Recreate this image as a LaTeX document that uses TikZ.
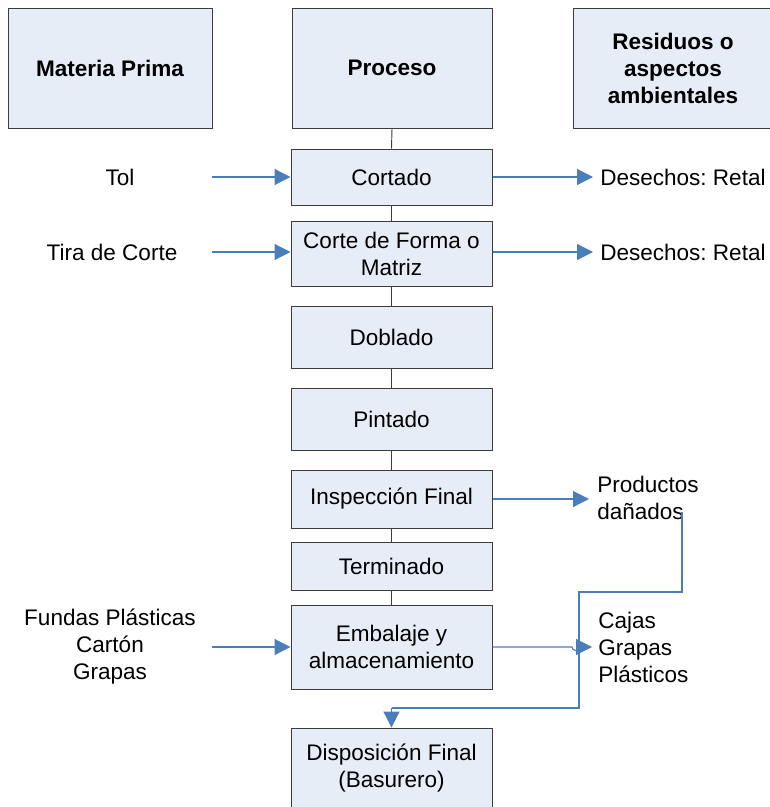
\documentclass[tikz,border=0pt]{standalone}
\usepackage{fontspec}
\setmainfont{Liberation Sans}
\frenchspacing
\usetikzlibrary{arrows.meta}
\definecolor{boxfill}{HTML}{E7EDF7}
\definecolor{boxline}{HTML}{3C3C3C}
\definecolor{flow}{HTML}{4A7EBB}
\tikzset{
  pbox/.style={draw=boxline, line width=0.75pt, fill=boxfill, align=center, inner sep=2pt,
    font=\fontsize{16.9}{20.25}\selectfont},
  hbox/.style={pbox, font=\fontsize{16.9}{20.25}\selectfont\bfseries},
  lbl/.style={align=center, inner sep=0pt, font=\fontsize{16.9}{20.25}\selectfont},
  rlbl/.style={align=left, anchor=west, inner sep=0pt, font=\fontsize{16.9}{20.25}\selectfont},
  link/.style={draw=boxline, line width=0.7pt},
  arr/.style={draw=flow, line width=0.9pt, -{Triangle[length=12pt,width=12pt]}},
  fl/.style={draw=flow, line width=0.9pt}
}
\begin{document}
\begin{tikzpicture}[x=0.75pt,y=-0.75pt]
\useasboundingbox (0,0) rectangle (770,807);
% headers
\node[hbox, minimum width=153pt, minimum height=90pt] (mp) at (110,68) {Materia Prima};
\node[hbox, minimum width=150pt, minimum height=90pt] (pr) at (392,68) {Proceso};
\node[hbox, minimum width=150pt, minimum height=90pt] (rs) at (673,68) {Residuos o\\aspectos\\ambientales};
% process boxes
\node[pbox, minimum width=150.75pt, minimum height=42pt] (c1) at (391.5,177) {Cortado};
\node[pbox, minimum width=150.75pt, minimum height=48.75pt] (c2) at (391.5,253.5) {Corte de Forma o\\Matriz};
\node[pbox, minimum width=150.75pt, minimum height=46.5pt] (c3) at (391.5,337) {Doblado};
\node[pbox, minimum width=150.75pt, minimum height=46.5pt] (c4) at (391.5,419) {Pintado};
\node[pbox, minimum width=150.75pt, minimum height=43.5pt] (c5) at (391.5,499) {Inspección Final};
\node[pbox, minimum width=150.75pt, minimum height=36pt] (c6) at (391.5,566) {Terminado};
\node[pbox, minimum width=150.75pt, minimum height=63pt] (c7) at (391.5,647) {Embalaje y\\almacenamiento};
\node[pbox, minimum width=150.75pt, minimum height=60pt] (c8) at (391.5,768) {Disposición Final\\(Basurero)};
% process connectors
\draw[link] (pr.south) -- (c1.north);
\draw[link] (c1.south) -- (c2.north);
\draw[link] (c2.south) -- (c3.north);
\draw[link] (c3.south) -- (c4.north);
\draw[link] (c4.south) -- (c5.north);
\draw[link] (c5.south) -- (c6.north);
\draw[link] (c6.south) -- (c7.north);
% inputs
\node[lbl] (i1) at (120,177) {Tol};
\node[lbl] (i2) at (112,252) {Tira de Corte};
\node[lbl] (i3) at (110,647) {Fundas Plásticas\\Cartón\\Grapas};
\coordinate (s1) at (212,177);
\coordinate (s2) at (212,252);
\coordinate (s3) at (212,647);
\draw[arr] (s1) -- (c1.west |- s1);
\draw[arr] (s2) -- (c2.west |- s2);
\draw[arr] (s3) -- (c7.west |- s3);
% outputs
\node[rlbl] (o1) at (600,177) {Desechos: Retal};
\node[rlbl] (o2) at (600,252) {Desechos: Retal};
\node[rlbl] (o3) at (597,498) {Productos\\dañados};
\node[rlbl] (o4) at (598,647) {Cajas\\Grapas\\Plásticos};
\coordinate (e1) at (593,177);
\coordinate (e2) at (593,252);
\coordinate (e3) at (589,499);
\coordinate (e4) at (592,647);
\draw[arr] (c1.east |- e1) -- (e1);
\draw[arr] (c2.east |- e2) -- (e2);
\draw[arr] (c5.east |- e3) -- (e3);
\draw[arr] (c7.east |- e4) -- (572,647) arc[start angle=180,end angle=0,radius=3.5] -- (e4);
% damaged products to final disposal
\coordinate (d0) at (682,512);
\draw[fl] (d0) -- (682,592) -- (579,592) -- (579,708) -- (391.5,708);
\draw[arr] (391.5,707.6) -- (c8.north);
\end{tikzpicture}
\end{document}
